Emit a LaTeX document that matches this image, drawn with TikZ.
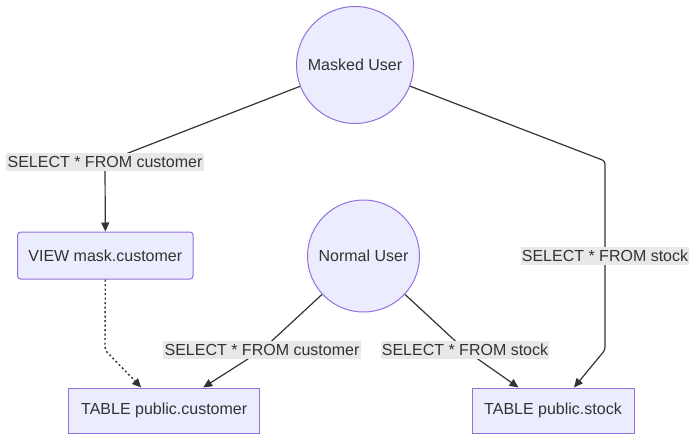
\documentclass[tikz,border=0pt]{standalone}
\usepackage{fontspec}
\setmainfont{Liberation Sans}
\usetikzlibrary{arrows.meta}
\definecolor{nodefill}{HTML}{ECECFF}
\definecolor{nodeline}{HTML}{9370DB}
\definecolor{edgecol}{HTML}{333333}
\definecolor{lblbg}{HTML}{E8E8E8}
\tikzset{
  usercirc/.style={circle, draw=nodeline, fill=nodefill, line width=1pt, inner sep=0pt},
  viewbox/.style={rectangle, rounded corners=3pt, draw=nodeline, fill=nodefill, line width=1pt, inner sep=0pt},
  tablebox/.style={rectangle, draw=nodeline, fill=nodefill, line width=1pt, inner sep=0pt},
  lbl/.style={fill=lblbg, inner xsep=1.2pt, inner ysep=0pt, minimum height=18pt, text=edgecol},
  edgeline/.style={draw=edgecol, line width=1.2pt, rounded corners=3pt, -{Triangle[length=9pt,width=8pt]}},
  dotline/.style={draw=edgecol, line width=1.4pt, dash pattern=on 2pt off 2.5pt, rounded corners=3pt, -{Triangle[length=9pt,width=8pt]}}
}
\begin{document}
\begin{tikzpicture}[x=1pt,y=-1pt, font=\fontsize{16pt}{19pt}\selectfont, text=edgecol]
\useasboundingbox (0,0) rectangle (692,434);
\node[usercirc, minimum size=117pt] (mu) at (355,65) {Masked User};
\node[usercirc, minimum size=112pt] (nu) at (363.5,256) {Normal User};
\node[viewbox, minimum width=175.5pt, minimum height=47pt] (view) at (105.3,255.5) {VIEW mask.customer};
\node[tablebox, minimum width=190.5pt, minimum height=45pt] (tc) at (164.2,410.5) {TABLE public.customer};
\node[tablebox, minimum width=162pt, minimum height=45pt] (ts) at (553,410.5) {TABLE public.stock};
\coordinate (c1) at (105,162);
\coordinate (c2) at (605,161);
\coordinate (c3) at (605,350);
\coordinate (c4) at (105,350);
\coordinate (l3) at (262,350);
\coordinate (l4) at (465,350);
% Masked User -> VIEW
\draw[edgeline] (mu) -- (c1) -- (view.north);
\node[lbl] at (c1) {SELECT * FROM customer};
% Masked User -> stock
\draw[edgeline] (mu) -- (c2) -- (c3) -- ([xshift=21pt]ts.north);
\node[lbl] at (605,256) {SELECT * FROM stock};
% VIEW -> customer table
\draw[dotline] (view.south) -- (c4) -- ([xshift=-23pt]tc.north);
% Normal User -> customer table
\draw[edgeline] (nu) -- (l3) -- ([xshift=39pt]tc.north);
\node[lbl] at (l3) {SELECT * FROM customer};
% Normal User -> stock table
\draw[edgeline] (nu) -- (l4) -- ([xshift=-34.5pt]ts.north);
\node[lbl] at (l4) {SELECT * FROM stock};
\end{tikzpicture}
\end{document}
